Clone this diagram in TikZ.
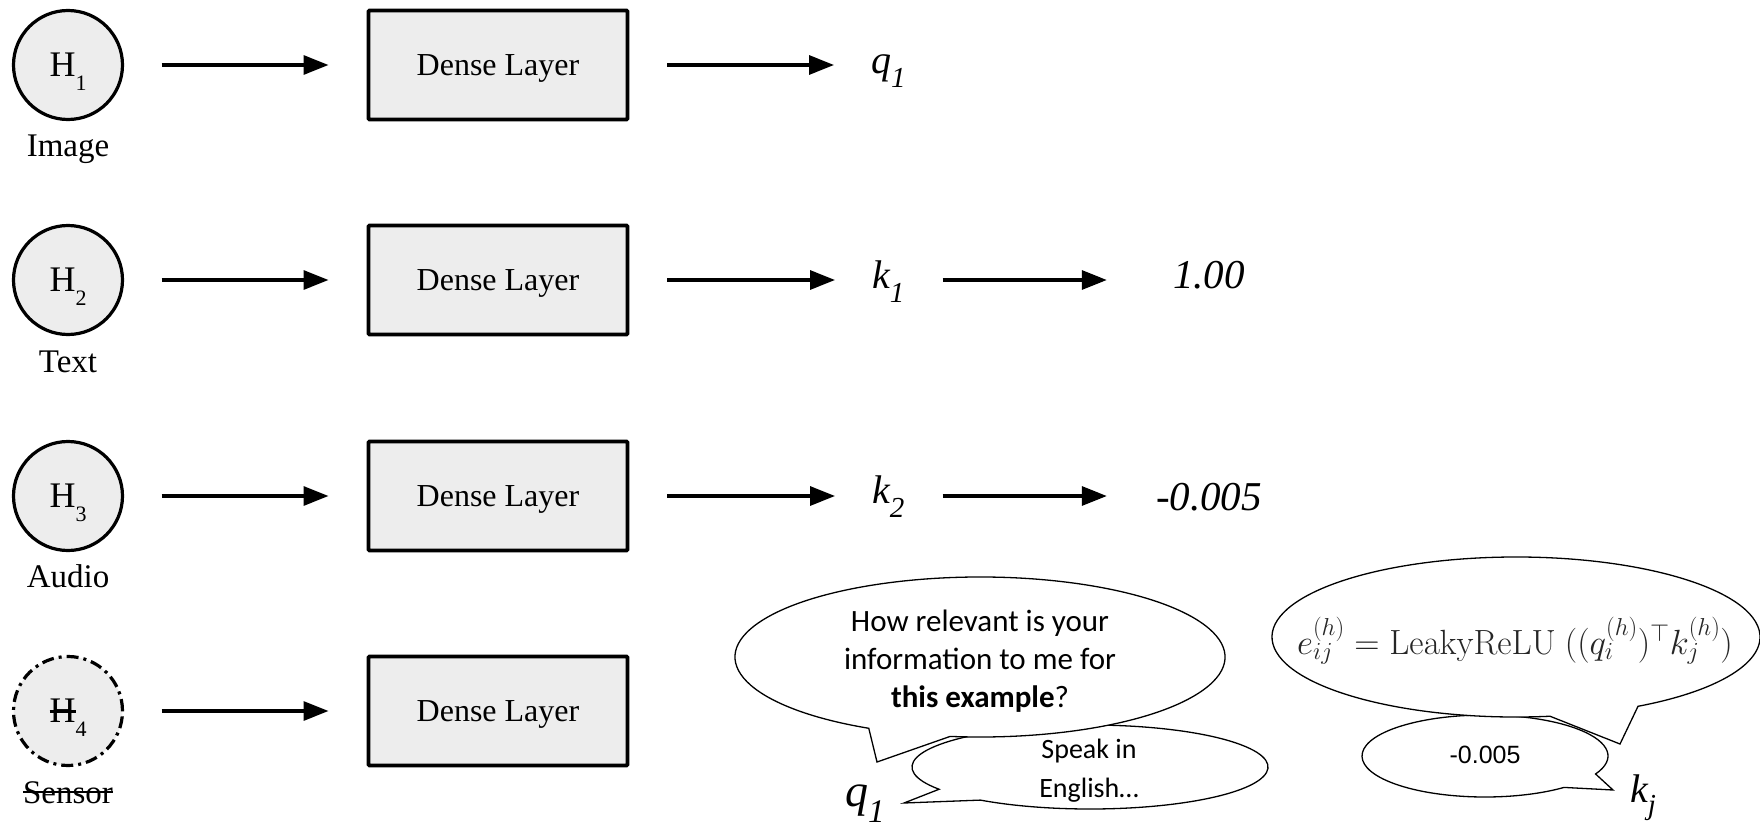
\RequirePackage{fix-cm}
\documentclass[tikz,border=0pt]{standalone}
\usepackage[no-math]{fontspec}
\setmainfont{Liberation Serif}
\newfontfamily\calibrifont{Carlito}
\newfontfamily\arialfont{Liberation Sans}
\usetikzlibrary{arrows.meta}
\definecolor{lightfill}{HTML}{EDEDED}
% letter followed by a lowered, smaller index
\newcommand{\lowsub}[4]{#1\raisebox{#4}{\fontsize{#3}{#3}\selectfont #2}}
% word with a thick line struck through it
\newcommand{\strikeword}[1]{\setbox0=\hbox{#1}\rlap{\rule[9.6pt]{\wd0}{2.7pt}}\box0}

\begin{document}
\begin{tikzpicture}[x=1pt, y=-1pt,
  hnode/.style={circle, draw, line width=3.2pt, fill=lightfill, minimum size=109pt,
    inner sep=0pt, outer sep=0pt, font=\fontsize{36}{36}\selectfont},
  missing/.style={dash pattern=on 12pt off 5pt on 3pt off 5pt},
  dense/.style={rectangle, draw, line width=3.6pt, fill=lightfill, minimum width=259pt,
    minimum height=109pt, outer sep=0pt, rounded corners=1pt, text depth=0pt,
    font=\fontsize{32}{32}\selectfont},
  modlabel/.style={anchor=base, inner sep=0pt, font=\fontsize{33}{33}\selectfont},
  flow/.style={line width=3.2pt, -{Triangle[length=25pt,width=19pt]}},
  vec/.style={anchor=base west, inner sep=0pt, font=\fontsize{40}{40}\selectfont\itshape},
  score/.style={anchor=base, inner sep=0pt, minimum width=110pt, font=\fontsize{41}{41}\selectfont\itshape},
  bubble/.style={draw, line width=1.3pt, fill=white, line join=miter},
  bubbletext/.style={align=center, inner sep=0pt, font=\calibrifont\fontsize{31}{38}\selectfont}
]
\useasboundingbox (0,0) rectangle (1760,824);

% modality inputs
\node[hnode] (h1) at (68,65) {\raisebox{-2pt}{H\smash{\raisebox{-14pt}{\fontsize{22}{22}\selectfont 1}}}};
\node[hnode] (h2) at (68,280) {\raisebox{-2pt}{H\smash{\raisebox{-14pt}{\fontsize{22}{22}\selectfont 2}}}};
\node[hnode] (h3) at (68,496) {\raisebox{-2pt}{H\smash{\raisebox{-14pt}{\fontsize{22}{22}\selectfont 3}}}};
\node[hnode, missing] (h4) at (68,711) {\raisebox{-2pt}{\strikeword{H}\smash{\raisebox{-14pt}{\fontsize{22}{22}\selectfont 4}}}};

\node[modlabel] (l1) at (68,157) {Image};
\node[modlabel] (l2) at (68,372) {Text};
\node[modlabel] (l3) at (68,587) {Audio};
\node[modlabel] (l4) at (68,803) {\strikeword{Sensor}};

% projections
\node[dense] (d1) at (498,65) {Dense Layer};
\node[dense] (d2) at (498,280) {Dense Layer};
\node[dense] (d3) at (498,496) {Dense Layer};
\node[dense] (d4) at (498,711) {Dense Layer};

% query / keys and scores
\node[vec] (q1) at (871,74) {\lowsub{q}{1}{29}{-14pt}};
\node[vec] (k1) at (872,288) {\lowsub{k}{1}{29}{-14pt}};
\node[vec] (k2) at (872,503) {\lowsub{k}{2}{29}{-14pt}};
\node[score] (v1) at (1209,288) {1.00};
\node[score] (v2) at (1209,510) {-0.005};

\foreach \i in {1,2,3,4}
  \draw[flow, shorten <=39pt, shorten >=40pt] (h\i) -- (d\i);
\draw[flow, shorten <=39.5pt, shorten >=37pt] (d1.east) -- (d1.east -| q1.west);
\draw[flow, shorten <=39.5pt, shorten >=37pt] (d2.east) -- (d2.east -| k1.west);
\draw[flow, shorten <=39.5pt, shorten >=37pt] (d3.east) -- (d3.east -| k2.west);
\draw[flow, shorten <=38pt, shorten >=47pt] (d2.east -| k1.east) -- (d2.east -| v1.west);
\draw[flow, shorten <=38pt, shorten >=47pt] (d3.east -| k2.east) -- (d3.east -| v2.west);

% speech bubbles: query side
\path[bubble] (1090,767) ++(148:178 and 42)
  arc[start angle=148, end angle=488, x radius=178, y radius=42] -- (904,803) -- cycle;
\path[bubble] (980,657) ++(117:245 and 80)
  arc[start angle=117, end angle=457, x radius=245, y radius=80] -- (877,762) -- cycle;
\node[bubbletext] (ask) at (980,661) {How relevant is your\\information to me for\\\textbf{this example}?};
\node[bubbletext, font=\calibrifont\fontsize{28}{39}\selectfont] (reply) at (1089,771) {Speak in\\English…};
\node[vec, font=\fontsize{46}{46}\selectfont\itshape] (qb) at (845,806) {\lowsub{q}{1}{33}{-16pt}};

% speech bubbles: key side
\path[bubble] (1485,756) ++(50:123 and 41)
  arc[start angle=50, end angle=386, x radius=123, y radius=41] -- (1613,790) -- cycle;
\path[bubble] (1516,637) ++(82:244 and 80)
  arc[start angle=82, end angle=420, x radius=244, y radius=80] -- (1620,744) -- cycle;
\node[inner sep=0pt, text=black!85, font=\fontsize{35}{40}\selectfont] (eq) at (1515,641)
  {$e_{ij}^{(h)} = \mathrm{LeakyReLU}\ \big((q_i^{(h)})^{\top} k_j^{(h)}\big)$};
\node[inner sep=0pt, font=\arialfont\fontsize{25}{25}\selectfont] (score) at (1485,755) {-0.005};
\node[vec] (kj) at (1630,802) {\lowsub{k}{j}{29}{-12pt}};
\end{tikzpicture}
\end{document}
